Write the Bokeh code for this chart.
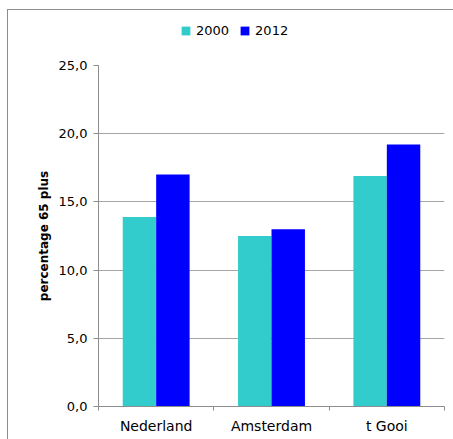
import numpy as np
from bokeh.plotting import figure
from bokeh.layouts import column
from bokeh.models import Range1d, FixedTicker, ColumnDataSource
from bokeh.embed import file_html
from bokeh.resources import INLINE

categories = ["Nederland", "Amsterdam", "t Gooi"]
years = ["2000", "2012"]
values_2000 = [13.9, 12.5, 16.9]
values_2012 = [17.0, 13.0, 19.2]
y_ticks = [0, 5, 10, 15, 20, 25]
y_tick_labels = ["0,0", "5,0", "10,0", "15,0", "20,0", "25,0"]
colors = ["#33CCCC", "#0000FF"]

FONT = "DejaVu Sans"
centers = np.arange(len(categories)) + 0.5

# --- legend strip (legend only; its swatch glyphs sit outside the visible range) ---
lf = figure(width=445, height=45, output_backend="svg", toolbar_location=None,
            x_range=Range1d(0, 1), y_range=Range1d(0, 1),
            min_border_left=0, min_border_right=0, min_border_top=0, min_border_bottom=0)
lf.axis.visible = False
lf.grid.visible = False
lf.outline_line_color = None
legend_src = ColumnDataSource(dict(year=years, color=colors, x=[-5] * len(years), top=[0] * len(years)))
lf.vbar(x="x", top="top", width=0.1, fill_color="color", line_color=None,
        legend_field="year", source=legend_src)
legend = lf.legend[0]
legend.orientation = "horizontal"
legend.location = (82, 17)
legend.glyph_width = 11
legend.glyph_height = 11
legend.label_height = 14
legend.label_standoff = 5
legend.spacing = 10
legend.padding = 0
legend.margin = 0
legend.border_line_color = None
legend.background_fill_alpha = 0
legend.label_text_font = FONT
legend.label_text_font_size = "13px"
legend.label_text_color = "#000000"
legend.label_text_baseline = "middle"

# --- main chart ---
p = figure(width=445, height=384, output_backend="svg", toolbar_location=None,
           x_range=Range1d(0, len(categories)), y_range=Range1d(0, 25),
           min_border_left=90, min_border_right=9, min_border_top=10, min_border_bottom=33)
p.outline_line_color = None
p.background_fill_color = "white"
p.border_fill_color = "white"

src = ColumnDataSource(dict(x0=centers - 0.145, x1=centers + 0.145, v0=values_2000, v1=values_2012))
p.vbar(x="x0", top="v0", width=0.29, bottom=0, source=src, fill_color=colors[0], line_color=None)
p.vbar(x="x1", top="v1", width=0.29, bottom=0, source=src, fill_color=colors[1], line_color=None)

p.xgrid.visible = False
p.ygrid.grid_line_color = "#a6a6a6"
p.ygrid.ticker = FixedTicker(ticks=y_ticks)

ya = p.yaxis[0]
ya.ticker = FixedTicker(ticks=y_ticks)
ya.major_label_overrides = {t: l for t, l in zip(y_ticks, y_tick_labels)}
ya.axis_line_color = "#8c8c8c"
ya.major_tick_line_color = "#8c8c8c"
ya.major_tick_out = 5
ya.major_tick_in = 0
ya.minor_tick_line_color = None
ya.major_label_text_font = FONT
ya.major_label_text_font_size = "13px"
ya.major_label_text_color = "#000000"
ya.major_label_standoff = 6
ya.axis_label = "percentage 65 plus"
ya.axis_label_text_font = FONT
ya.axis_label_text_font_style = "bold"
ya.axis_label_text_font_size = "12px"
ya.axis_label_text_color = "#000000"
ya.axis_label_standoff = 5

xa = p.xaxis[0]
xa.ticker = FixedTicker(ticks=list(centers), minor_ticks=list(range(len(categories) + 1)))
xa.major_label_overrides = {float(c): n for c, n in zip(centers, categories)}
xa.axis_line_color = "#8c8c8c"
xa.major_tick_line_color = None
xa.major_tick_out = 0
xa.major_tick_in = 0
xa.minor_tick_line_color = "#8c8c8c"
xa.minor_tick_out = 4
xa.minor_tick_in = 0
xa.major_label_text_font = FONT
xa.major_label_text_font_size = "14px"
xa.major_label_text_color = "#000000"
xa.major_label_standoff = 7

layout = column(lf, p, spacing=0)
layout.margin = (9, 0, 0, 7)
layout.styles = {"border-top": "1px solid #8c8c8c", "border-left": "1px solid #8c8c8c"}

open("out.html", "w").write(file_html(layout, INLINE))
